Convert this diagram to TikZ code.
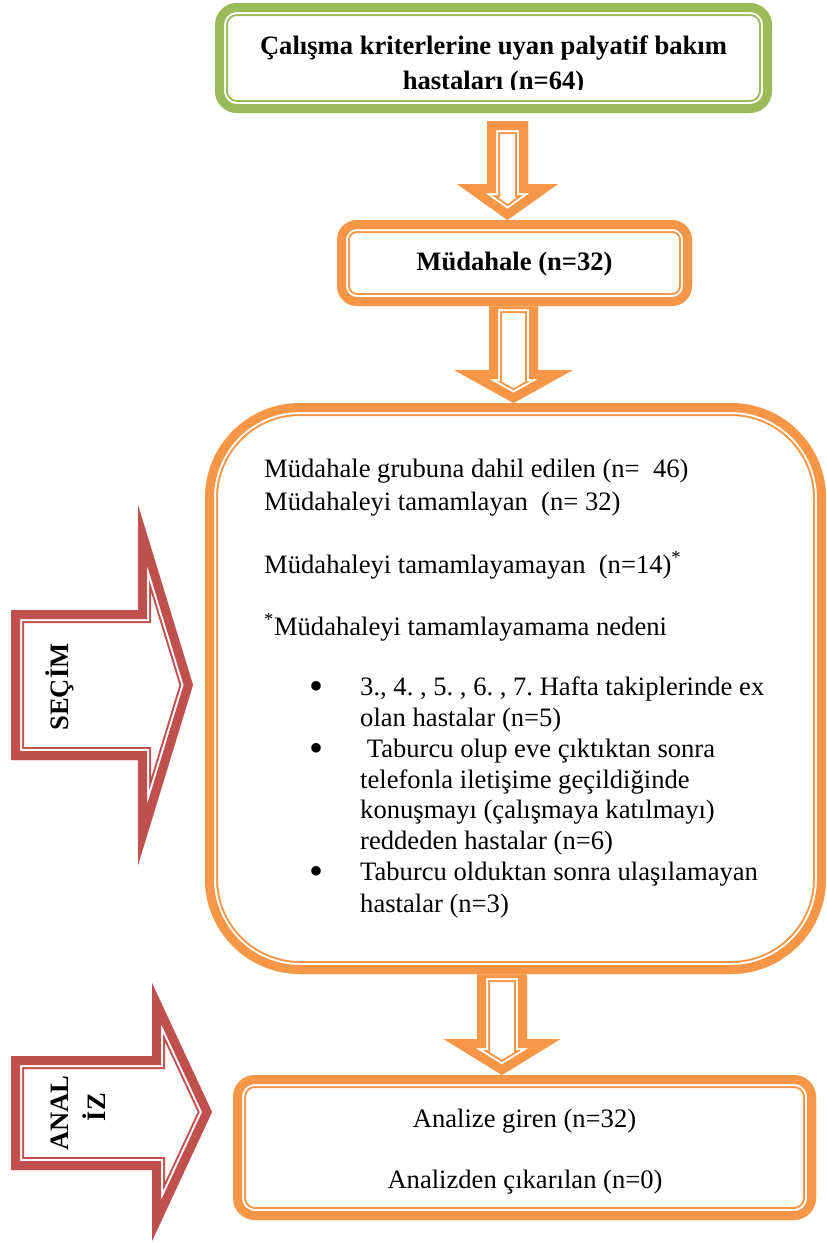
\documentclass[tikz,border=0pt]{standalone}
\usepackage{fontspec}
\setmainfont{Liberation Serif}
\usepackage{tikz}
\usetikzlibrary{calc}

\definecolor{grn}{HTML}{9BBB59}
\definecolor{orng}{HTML}{F79646}
\definecolor{rd}{HTML}{C0504D}

% thick band, white gap and thin line, all inside the path
\newcommand{\dblframe}[2]{%
\begin{scope}
\clip #2;
\fill[white] #2;
\draw[#1, line width=26pt] #2;
\draw[white, line width=22pt] #2;
\draw[#1, line width=18pt] #2;
\end{scope}}

% colour, top, tip, half shaft, half head, head length
\newcommand{\flowarrow}[6]{%
\dblframe{#1}{($(#2)+(-#4,0)$) -- ($(#2)+(#4,0)$) -- ($(#3)+(#4,-#6)$) -- ($(#3)+(#5,-#6)$) -- (#3) -- ($(#3)+(-#5,-#6)$) -- ($(#3)+(-#4,-#6)$) -- cycle}}

\newcommand{\bigbullet}{\raisebox{-4pt}{\scalebox{1.5}{\textbullet}}}

\begin{document}
\fontsize{26.6}{33}\selectfont\frenchspacing
\begin{tikzpicture}[x=1pt, y=-1pt,
  box/.style={rectangle, inner sep=0pt, outer sep=0pt},
  txt/.style={inner sep=0pt, anchor=base west},
  hd/.style={inner sep=0pt, anchor=base, font=\bfseries}]

\useasboundingbox (0,0) rectangle (827,1243);

\node[box, minimum width=557pt, minimum height=110pt] (crit) at (493.5,58) {};
\node[box, minimum width=355pt, minimum height=86pt] (mud) at (514.5,263) {};
\node[box, minimum width=621pt, minimum height=571pt] (grp) at (515.5,688.5) {};
\node[box, minimum width=583pt, minimum height=145pt] (anl) at (524.5,1147.5) {};

\coordinate (a1top) at ($(crit.south)+(14,8)$);
\coordinate (a1tip) at (a1top |- mud.north);
\coordinate (a2top) at ($(mud.south)+(-1,-6)$);
\coordinate (a2tip) at (a2top |- grp.north);
\coordinate (a3top) at ($(grp.south)+(-13.5,-5)$);
\coordinate (a3tip) at (a3top |- anl.north);

\flowarrow{orng}{a1top}{a1tip}{20.5}{50.5}{36}
\flowarrow{orng}{a2top}{a2tip}{24.5}{59.5}{33}
\flowarrow{orng}{a3top}{a3tip}{25}{58.5}{36}

\foreach \nm/\cl/\rr in {crit/grn/22, mud/orng/20, grp/orng/95, anl/orng/22}{
\dblframe{\cl}{[rounded corners=\rr pt] (\nm.north west) rectangle (\nm.south east)}
}

% side arrows
\dblframe{rd}{(11,610) -- (138,610) -- (138,505) -- (193,685) -- (138,865) -- (138,760) -- (11,760) -- cycle}
\dblframe{rd}{(11,1056) -- (152,1056) -- (152,983) -- (212,1112) -- (152,1241) -- (152,1170) -- (11,1170) -- cycle}

\node[hd, rotate=90] (sel) at (68,687) {SEÇİM};
\node[hd, rotate=90] (anz) at (68,1113) {ANAL};
\node[hd, rotate=90] (anz2) at (105,1107) {İZ};

% top box
\node[hd] (crita) at (493.5,54) {Çalışma kriterlerine uyan palyatif bakım};
\begin{scope}
\clip (crit.north west) rectangle (800,89);
\node[hd] (critb) at (493.5,89) {hastaları (n=64)};
\end{scope}

\node[hd] (mudt) at (514.5,270) {Müdahale (n=32)};

% group box
\foreach \ly/\lt in {477/{Müdahale grubuna dahil edilen (n=\ \ 46)},
  510/{Müdahaleyi tamamlayan\ \ (n= 32)},
  573/{Müdahaleyi tamamlayamayan\ \ (n=14)\textsuperscript{*}},
  635/{\textsuperscript{*}Müdahaleyi tamamlayamama nedeni}}
  \node[txt] (g\ly) at (264,\ly) {\lt};

\foreach \ly/\lt in {695/{3., 4. , 5. , 6. , 7. Hafta takiplerinde ex},
  726/{olan hastalar (n=5)},
  757/{\ Taburcu olup eve çıktıktan sonra},
  788/{telefonla iletişime geçildiğinde},
  818/{konuşmayı (çalışmaya katılmayı)},
  849/{reddeden hastalar (n=6)},
  880/{Taburcu olduktan sonra ulaşılamayan},
  912/{hastalar (n=3)}}
  \node[txt] (i\ly) at (360,\ly) {\lt};

\foreach \ly in {695,757,880}
  \node[inner sep=0pt, anchor=base] (b\ly) at (316,\ly) {\bigbullet};

% analysis box
\node[inner sep=0pt, anchor=base] (anla) at (524.5,1127) {Analize giren (n=32)};
\node[inner sep=0pt, anchor=base] (anlb) at (525,1188) {Analizden çıkarılan (n=0)};

\end{tikzpicture}
\end{document}
